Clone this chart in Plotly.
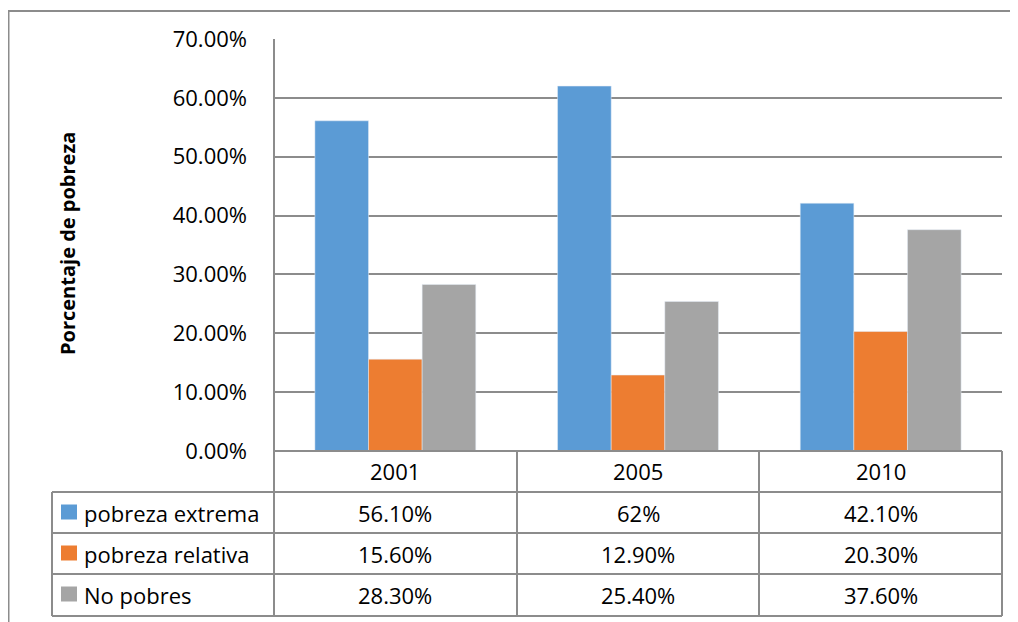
import plotly.graph_objects as go

# ---- data ----
years = ["2001", "2005", "2010"]
series_names = ["pobreza extrema", "pobreza relativa", "No pobres"]
pobreza_extrema = [0.561, 0.62, 0.421]
pobreza_relativa = [0.156, 0.129, 0.203]
no_pobres = [0.283, 0.254, 0.376]
table_extrema = ["56.10%", "62%", "42.10%"]
table_relativa = ["15.60%", "12.90%", "20.30%"]
table_no_pobres = ["28.30%", "25.40%", "37.60%"]
colors = ["#5B9BD5", "#ED7D31", "#A5A5A5"]
y_title = "Porcentaje de pobreza"

# page offset (browser body margin)
OFF = 8
W, H = 1018 - OFF, 622 - OFF
PL, PR, PT, PB = 274, 1002, 39, 451  # plot area in screen pixels
L, T = PL - OFF, PT - OFF
R, B = W - (PR - OFF), H - (PB - OFF)
PW, PH = PR - PL, PB - PT
FONT = "Open Sans"
LINE = "#8c8c8c"


def fx(px):
    return (px - PL) / PW


def fy(py):
    return (PB - py) / PH


fig = go.Figure()
for name, vals, col in zip(series_names, [pobreza_extrema, pobreza_relativa, no_pobres], colors):
    fig.add_trace(go.Bar(x=years, y=vals, name=name, marker_color=col))

shapes = []
# outer border
shapes.append(dict(type="rect", xref="paper", yref="paper", x0=fx(8.5), x1=fx(1060), y0=fy(11), y1=fy(660),
                   line=dict(color=LINE, width=2), layer="below"))


def hline(x0, x1, y):
    shapes.append(dict(type="line", xref="paper", yref="paper", x0=fx(x0), x1=fx(x1), y0=fy(y), y1=fy(y),
                       line=dict(color=LINE, width=2)))


def vline(x, y0, y1):
    shapes.append(dict(type="line", xref="paper", yref="paper", x0=fx(x), x1=fx(x), y0=fy(y0), y1=fy(y1),
                       line=dict(color=LINE, width=2)))


# axis line and table grid
vline(274, 39, 616)
vline(517, 451, 616)
vline(759, 451, 616)
vline(1002, 451, 616)
vline(52, 492, 616)
hline(274, 1002, 451)
for yy in [492, 533, 574, 616]:
    hline(52, 1002, yy)

annotations = []
# year header row
for i, yr in enumerate(years):
    annotations.append(dict(x=i, xref="x", y=fy(471.5), yref="paper", text=yr, showarrow=False,
                            font=dict(family=FONT, size=22, color="#000"), xanchor="center", yanchor="middle"))

row_centers = [512.5, 553.5, 594.5]
for rc, name, col, row in zip(row_centers, series_names, colors,
                              [table_extrema, table_relativa, table_no_pobres]):
    shapes.append(dict(type="rect", xref="paper", yref="paper", x0=fx(61), x1=fx(77), y0=fy(rc - 8), y1=fy(rc + 7),
                       fillcolor=col, line=dict(width=0)))
    annotations.append(dict(x=fx(82), xref="paper", y=fy(rc), yref="paper", text=name, showarrow=False,
                            font=dict(family=FONT, size=22, color="#000"), xanchor="left", yanchor="middle"))
    for i, txt in enumerate(row):
        annotations.append(dict(x=i, xref="x", y=fy(rc), yref="paper", text=txt, showarrow=False,
                                font=dict(family=FONT, size=22, color="#000"), xanchor="center", yanchor="middle"))

# y-axis title
annotations.append(dict(x=fx(67), xref="paper", y=fy(244), yref="paper", text="<b>" + y_title + "</b>",
                        textangle=-90, showarrow=False, font=dict(family=FONT, size=20, color="#000"),
                        xanchor="center", yanchor="middle"))

fig.update_layout(
    width=W, height=H,
    margin=dict(l=L, r=R, t=T, b=B, pad=0),
    paper_bgcolor="white", plot_bgcolor="white",
    barmode="group", bargap=0.337, bargroupgap=0,
    showlegend=False,
    shapes=shapes, annotations=annotations,
    font=dict(family=FONT, size=22, color="#000"),
    xaxis=dict(type="category", categoryorder="array", categoryarray=years, range=[-0.5, len(years) - 0.5],
               showticklabels=False, showgrid=False, zeroline=False, showline=False, ticks=""),
    yaxis=dict(range=[0, 0.7], dtick=0.1, tick0=0, tickformat=".2%", showgrid=True, gridcolor=LINE,
               gridwidth=2, zeroline=False, showline=False, ticks="", ticklabelstandoff=26,
               tickfont=dict(family=FONT, size=22, color="#000")),
)

fig.write_html("out.html")
